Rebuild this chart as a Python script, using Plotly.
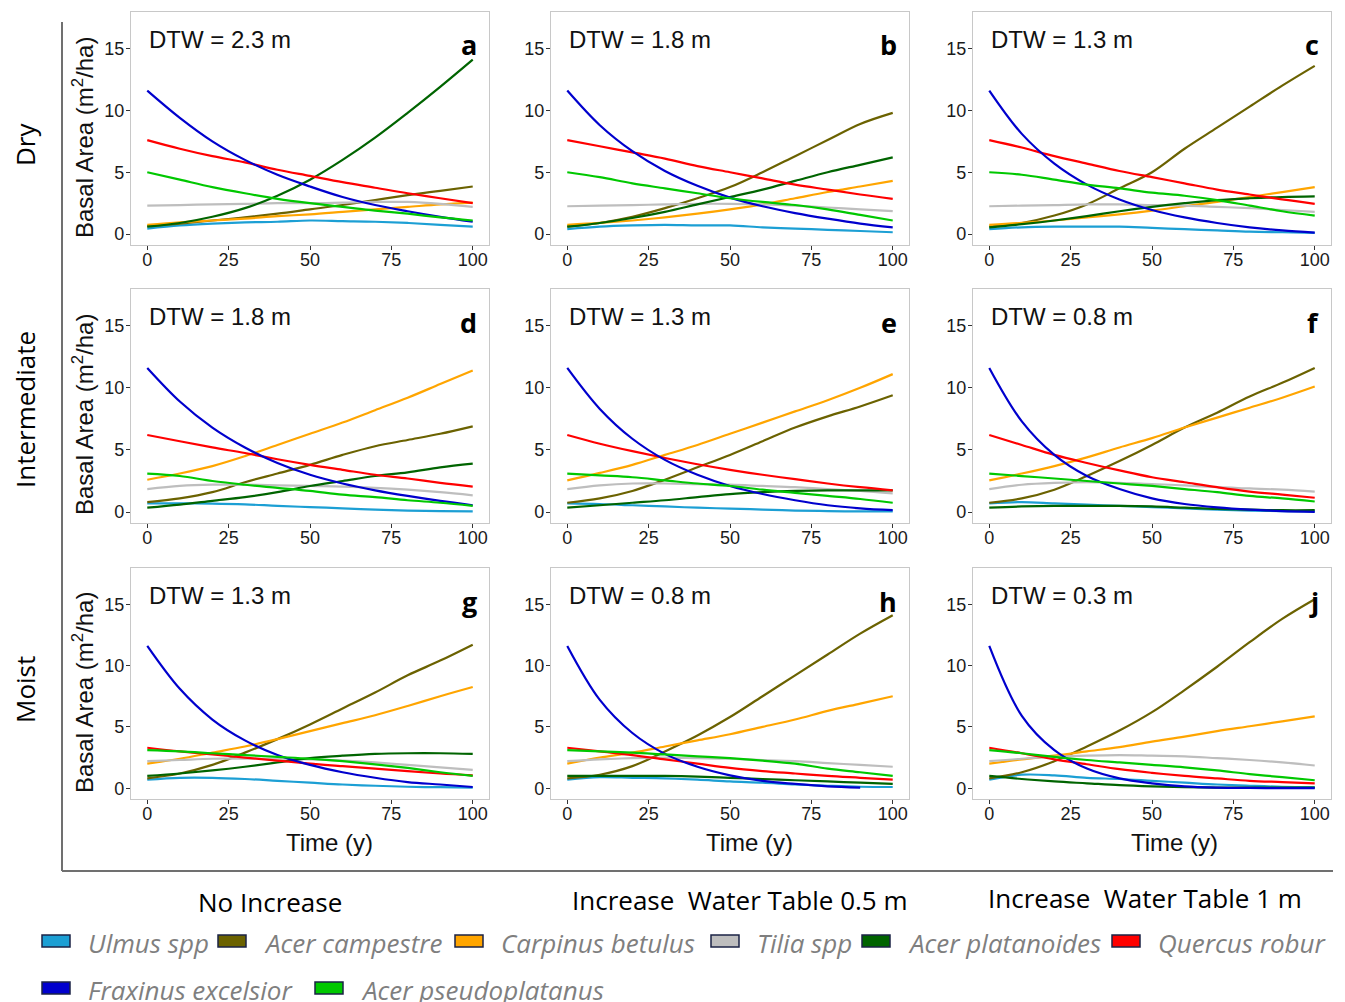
import plotly.graph_objects as go

# ---------------- data ----------------
years = [0, 10, 20, 30, 40, 50, 60, 70, 80, 90, 100]

species = ["Ulmus spp", "Acer campestre", "Carpinus betulus", "Tilia spp",
           "Acer platanoides", "Quercus robur", "Fraxinus excelsior", "Acer pseudoplatanus"]

species_colors = ["#1C9FD4", "#6B6200", "#FFA500", "#BEBEBE",
                  "#006400", "#FF0000", "#0000CD", "#00C800"]

panel_letters = ["a", "b", "c", "d", "e", "f", "g", "h", "j"]
dtw_labels = ["DTW = 2.3 m", "DTW = 1.8 m", "DTW = 1.3 m",
              "DTW = 1.8 m", "DTW = 1.3 m", "DTW = 0.8 m",
              "DTW = 1.3 m", "DTW = 0.8 m", "DTW = 0.3 m"]

row_labels = ["Dry", "Intermediate", "Moist"]
col_labels = ["No Increase", "Increase\u00a0 Water Table 0.5 m", "Increase\u00a0 Water Table 1 m"]

y_ticks = [0, 5, 10, 15]
x_ticks = [0, 25, 50, 75, 100]

panel_a = {
    "Ulmus spp":           [0.45, 0.7, 0.85, 0.95, 1.0, 1.1, 1.05, 1.0, 0.9, 0.75, 0.6],
    "Acer campestre":      [0.65, 0.85, 1.1, 1.35, 1.65, 2.0, 2.35, 2.75, 3.15, 3.5, 3.85],
    "Carpinus betulus":    [0.75, 0.95, 1.1, 1.25, 1.45, 1.6, 1.8, 2.0, 2.2, 2.4, 2.55],
    "Tilia spp":           [2.3, 2.35, 2.4, 2.45, 2.5, 2.5, 2.55, 2.6, 2.6, 2.45, 2.2],
    "Acer platanoides":    [0.6, 0.9, 1.4, 2.1, 3.1, 4.4, 6.0, 7.8, 9.8, 11.9, 14.1],
    "Quercus robur":       [7.6, 6.9, 6.3, 5.8, 5.2, 4.7, 4.2, 3.75, 3.3, 2.9, 2.5],
    "Fraxinus excelsior":  [11.6, 9.4, 7.5, 6.0, 4.8, 3.85, 3.0, 2.35, 1.85, 1.4, 1.0],
    "Acer pseudoplatanus": [5.0, 4.4, 3.8, 3.3, 2.85, 2.5, 2.2, 1.9, 1.65, 1.35, 1.1],
}
panel_b = {
    "Ulmus spp":           [0.4, 0.6, 0.7, 0.75, 0.7, 0.7, 0.55, 0.45, 0.35, 0.25, 0.15],
    "Acer campestre":      [0.6, 0.9, 1.4, 2.1, 2.9, 3.8, 5.0, 6.3, 7.6, 8.9, 9.8],
    "Carpinus betulus":    [0.75, 0.9, 1.1, 1.35, 1.65, 2.0, 2.4, 2.9, 3.4, 3.85, 4.3],
    "Tilia spp":           [2.25, 2.3, 2.35, 2.4, 2.45, 2.45, 2.4, 2.3, 2.15, 2.0, 1.85],
    "Acer platanoides":    [0.6, 0.9, 1.3, 1.8, 2.4, 3.0, 3.6, 4.3, 5.0, 5.6, 6.2],
    "Quercus robur":       [7.6, 7.1, 6.6, 6.1, 5.5, 5.0, 4.5, 4.0, 3.6, 3.2, 2.85],
    "Fraxinus excelsior":  [11.6, 8.8, 6.7, 5.1, 3.9, 2.95, 2.25, 1.7, 1.25, 0.85, 0.55],
    "Acer pseudoplatanus": [5.0, 4.6, 4.1, 3.7, 3.3, 2.9, 2.6, 2.35, 2.0, 1.55, 1.1],
}
panel_c = {
    "Ulmus spp":           [0.4, 0.55, 0.6, 0.6, 0.6, 0.5, 0.4, 0.3, 0.2, 0.15, 0.1],
    "Acer campestre":      [0.6, 0.9, 1.5, 2.4, 3.7, 5.0, 6.9, 8.6, 10.3, 12.0, 13.6],
    "Carpinus betulus":    [0.75, 0.9, 1.1, 1.35, 1.6, 1.9, 2.25, 2.6, 3.0, 3.4, 3.8],
    "Tilia spp":           [2.25, 2.3, 2.35, 2.4, 2.4, 2.35, 2.3, 2.2, 2.1, 1.95, 1.8],
    "Acer platanoides":    [0.55, 0.8, 1.1, 1.45, 1.85, 2.2, 2.5, 2.75, 2.9, 3.0, 3.05],
    "Quercus robur":       [7.6, 7.0, 6.3, 5.7, 5.1, 4.6, 4.1, 3.6, 3.2, 2.8, 2.45],
    "Fraxinus excelsior":  [11.6, 8.1, 5.7, 4.0, 2.8, 1.95, 1.35, 0.9, 0.55, 0.3, 0.12],
    "Acer pseudoplatanus": [5.0, 4.8, 4.4, 4.0, 3.7, 3.35, 3.1, 2.75, 2.3, 1.85, 1.5],
}
panel_d = {
    "Ulmus spp":           [0.7, 0.7, 0.68, 0.62, 0.5, 0.4, 0.3, 0.2, 0.12, 0.08, 0.05],
    "Acer campestre":      [0.8, 1.1, 1.6, 2.4, 3.1, 3.8, 4.6, 5.3, 5.8, 6.3, 6.9],
    "Carpinus betulus":    [2.6, 3.1, 3.7, 4.5, 5.4, 6.3, 7.2, 8.2, 9.2, 10.3, 11.4],
    "Tilia spp":           [1.85, 2.1, 2.2, 2.2, 2.15, 2.1, 2.05, 1.95, 1.8, 1.6, 1.35],
    "Acer platanoides":    [0.35, 0.6, 0.9, 1.2, 1.6, 2.1, 2.5, 2.9, 3.2, 3.6, 3.9],
    "Quercus robur":       [6.2, 5.7, 5.2, 4.75, 4.25, 3.8, 3.4, 3.0, 2.7, 2.35, 2.05],
    "Fraxinus excelsior":  [11.6, 8.9, 6.8, 5.2, 3.95, 3.0, 2.3, 1.75, 1.3, 0.9, 0.55],
    "Acer pseudoplatanus": [3.1, 2.9, 2.5, 2.2, 1.95, 1.7, 1.4, 1.2, 0.95, 0.75, 0.5],
}
panel_e = {
    "Ulmus spp":           [0.7, 0.65, 0.55, 0.45, 0.35, 0.28, 0.2, 0.12, 0.08, 0.05, 0.05],
    "Acer campestre":      [0.75, 1.1, 1.7, 2.6, 3.6, 4.6, 5.7, 6.8, 7.7, 8.5, 9.4],
    "Carpinus betulus":    [2.55, 3.15, 3.8, 4.6, 5.4, 6.3, 7.2, 8.1, 9.0, 10.0, 11.1],
    "Tilia spp":           [1.85, 2.15, 2.3, 2.3, 2.25, 2.2, 2.1, 2.0, 1.85, 1.7, 1.5],
    "Acer platanoides":    [0.35, 0.55, 0.75, 0.95, 1.2, 1.45, 1.6, 1.7, 1.75, 1.75, 1.75],
    "Quercus robur":       [6.2, 5.5, 4.9, 4.35, 3.85, 3.4, 3.0, 2.65, 2.3, 2.0, 1.75],
    "Fraxinus excelsior":  [11.6, 8.3, 5.9, 4.2, 3.0, 2.1, 1.45, 0.95, 0.55, 0.3, 0.15],
    "Acer pseudoplatanus": [3.1, 2.95, 2.8, 2.55, 2.3, 2.1, 1.8, 1.55, 1.3, 1.05, 0.75],
}
panel_f = {
    "Ulmus spp":           [0.7, 0.8, 0.7, 0.6, 0.5, 0.4, 0.3, 0.2, 0.12, 0.08, 0.05],
    "Acer campestre":      [0.75, 1.1, 1.8, 2.9, 4.1, 5.4, 6.8, 8.0, 9.3, 10.4, 11.6],
    "Carpinus betulus":    [2.55, 3.1, 3.7, 4.4, 5.2, 5.95, 6.8, 7.6, 8.4, 9.2, 10.1],
    "Tilia spp":           [1.85, 2.2, 2.35, 2.4, 2.35, 2.25, 2.15, 2.0, 1.9, 1.8, 1.65],
    "Acer platanoides":    [0.35, 0.45, 0.5, 0.5, 0.5, 0.45, 0.35, 0.25, 0.2, 0.15, 0.15],
    "Quercus robur":       [6.2, 5.4, 4.6, 3.95, 3.35, 2.8, 2.4, 2.0, 1.65, 1.4, 1.15],
    "Fraxinus excelsior":  [11.6, 7.3, 4.6, 2.9, 1.85, 1.1, 0.65, 0.38, 0.2, 0.08, 0.02],
    "Acer pseudoplatanus": [3.1, 2.9, 2.7, 2.5, 2.3, 2.1, 1.85, 1.6, 1.3, 1.1, 0.85],
}
panel_g = {
    "Ulmus spp":           [0.7, 0.85, 0.85, 0.75, 0.6, 0.45, 0.3, 0.2, 0.12, 0.08, 0.05],
    "Acer campestre":      [0.8, 1.2, 1.9, 2.9, 4.0, 5.2, 6.5, 7.8, 9.2, 10.4, 11.7],
    "Carpinus betulus":    [2.0, 2.4, 2.9, 3.4, 4.0, 4.65, 5.3, 5.95, 6.7, 7.5, 8.25],
    "Tilia spp":           [2.2, 2.3, 2.4, 2.4, 2.4, 2.35, 2.25, 2.1, 1.9, 1.7, 1.5],
    "Acer platanoides":    [1.0, 1.2, 1.45, 1.75, 2.1, 2.45, 2.65, 2.8, 2.85, 2.85, 2.8],
    "Quercus robur":       [3.3, 3.0, 2.75, 2.5, 2.25, 2.0, 1.8, 1.6, 1.4, 1.2, 1.05],
    "Fraxinus excelsior":  [11.6, 8.1, 5.6, 3.9, 2.7, 1.9, 1.3, 0.85, 0.5, 0.3, 0.1],
    "Acer pseudoplatanus": [3.1, 3.0, 2.85, 2.7, 2.55, 2.4, 2.2, 1.95, 1.65, 1.3, 1.0],
}
panel_h = {
    "Ulmus spp":           [0.7, 0.9, 0.85, 0.8, 0.7, 0.55, 0.45, 0.3, 0.2, 0.12, 0.1],
    "Acer campestre":      [0.8, 1.1, 1.8, 3.0, 4.3, 5.8, 7.5, 9.2, 10.9, 12.6, 14.1],
    "Carpinus betulus":    [2.0, 2.5, 2.9, 3.4, 3.9, 4.4, 5.0, 5.6, 6.3, 6.9, 7.5],
    "Tilia spp":           [2.2, 2.35, 2.45, 2.5, 2.45, 2.4, 2.3, 2.2, 2.05, 1.9, 1.75],
    "Acer platanoides":    [1.0, 1.0, 1.0, 1.0, 0.95, 0.85, 0.75, 0.65, 0.55, 0.45, 0.35],
    "Quercus robur":       [3.3, 3.0, 2.7, 2.35, 2.0, 1.65, 1.4, 1.2, 1.0, 0.85, 0.7],
    "Fraxinus excelsior":  [11.6, 7.2, 4.5, 2.8, 1.75, 1.05, 0.6, 0.35, 0.15, 0.05, None],
    "Acer pseudoplatanus": [3.1, 3.0, 2.9, 2.75, 2.6, 2.45, 2.25, 2.0, 1.6, 1.3, 1.0],
}
panel_j = {
    "Ulmus spp":           [0.7, 1.1, 1.05, 0.85, 0.75, 0.6, 0.45, 0.3, 0.2, 0.12, 0.1],
    "Acer campestre":      [0.8, 1.3, 2.2, 3.4, 4.7, 6.2, 8.0, 9.9, 11.9, 13.8, 15.4],
    "Carpinus betulus":    [2.0, 2.35, 2.65, 3.0, 3.35, 3.8, 4.2, 4.65, 5.05, 5.45, 5.85],
    "Tilia spp":           [2.2, 2.4, 2.55, 2.65, 2.7, 2.65, 2.6, 2.45, 2.3, 2.1, 1.85],
    "Acer platanoides":    [1.0, 0.75, 0.55, 0.4, 0.25, 0.15, 0.08, 0.05, 0.05, 0.05, 0.05],
    "Quercus robur":       [3.3, 2.85, 2.35, 1.95, 1.55, 1.25, 1.0, 0.8, 0.6, 0.5, 0.4],
    "Fraxinus excelsior":  [11.6, 5.9, 3.1, 1.6, 0.8, 0.4, 0.15, 0.05, 0.02, 0.01, 0.0],
    "Acer pseudoplatanus": [3.1, 2.85, 2.55, 2.3, 2.1, 1.9, 1.7, 1.45, 1.15, 0.9, 0.65],
}

panels = [panel_a, panel_b, panel_c, panel_d, panel_e, panel_f, panel_g, panel_h, panel_j]

# ---------------- layout geometry (page pixels) ----------------
W, H = 1345, 1002
OFF = 8  # default page body margin shifts the figure by this amount
col_px = [(131, 489), (551, 909), (973, 1331)]
row_px = [(12, 245), (289, 523), (568, 799)]
X_RANGE = [-5, 105]
Y_RANGE = [-0.88, 17.95]


def px(x):
    return (x - OFF) / W


def py(y):
    return 1 - (y - OFF) / H


fig = go.Figure()
annotations = []
shapes = []

for i, data in enumerate(panels):
    r, c = divmod(i, 3)
    n = i + 1
    xa = "x" if n == 1 else f"x{n}"
    ya = "y" if n == 1 else f"y{n}"
    for name, color in zip(species, species_colors):
        fig.add_trace(go.Scatter(
            x=years, y=data[name], mode="lines", name=name,
            line=dict(color=color, width=2.2, shape="spline", smoothing=1.0),
            xaxis=xa, yaxis=ya, showlegend=False, connectgaps=False,
        ))
    x0, x1 = col_px[c]
    y0, y1 = row_px[r]
    axis_common = dict(
        showline=True, mirror=True, linecolor="#C8C8C8", linewidth=1.4,
        ticks="outside", ticklen=4, tickwidth=1, tickcolor="#333333",
        showgrid=False, zeroline=False,
        tickfont=dict(family="Liberation Sans, Arial", size=18, color="#1a1a1a"),
    )
    fig.update_layout(**{
        ("xaxis" if n == 1 else f"xaxis{n}"): dict(
            domain=[px(x0), px(x1)], anchor=ya, range=X_RANGE,
            tickvals=x_ticks, ticktext=[str(t) for t in x_ticks],
            ticklabelstandoff=-6, **axis_common),
        ("yaxis" if n == 1 else f"yaxis{n}"): dict(
            domain=[py(y1), py(y0)], anchor=xa, range=Y_RANGE,
            tickvals=y_ticks, ticktext=[str(t) for t in y_ticks],
            ticklabelstandoff=-2, **axis_common),
    })
    # DTW label
    annotations.append(dict(
        x=0, xref=xa, y=py(y0 + 27), yref="paper", text=dtw_labels[i],
        showarrow=False, xanchor="left", yanchor="middle",
        font=dict(family="Liberation Sans, Arial", size=24, color="#111111")))
    # panel letter
    annotations.append(dict(
        x=px(x1 - 10), xref="paper", y=py(y0 + 33), yref="paper",
        text=f"<b>{panel_letters[i]}</b>", showarrow=False,
        xanchor="right", yanchor="middle",
        font=dict(family="Open Sans, Noto Sans", size=27, color="#000000")))

# y-axis titles (first column)
for r, yc in enumerate([138, 415, 693]):
    annotations.append(dict(
        x=px(83), y=py(yc), xref="paper", yref="paper",
        text="Basal Area (m<sup>2</sup>/ha)", textangle=-90, showarrow=False,
        xanchor="center", yanchor="middle",
        font=dict(family="Liberation Sans, Arial", size=24, color="#111111")))

# x-axis titles (bottom row)
for xc in [329, 749, 1174]:
    annotations.append(dict(
        x=px(xc), y=py(842), xref="paper", yref="paper", text="Time (y)",
        showarrow=False, xanchor="center", yanchor="middle",
        font=dict(family="Liberation Sans, Arial", size=24, color="#111111")))

# row labels
for lab, yc in zip(row_labels, [145, 410, 690]):
    annotations.append(dict(
        x=px(25), y=py(yc), xref="paper", yref="paper", text=lab,
        textangle=-90, showarrow=False, xanchor="center", yanchor="middle",
        borderpad=0,
        font=dict(family="Open Sans, Noto Sans", size=26, color="#000000")))

# column labels
for lab, xc, yc in zip(col_labels, [270, 740, 1145], [902, 900, 898]):
    annotations.append(dict(
        x=px(xc), y=py(yc), xref="paper", yref="paper", text=lab,
        showarrow=False, xanchor="center", yanchor="middle",
        font=dict(family="Open Sans, Noto Sans", size=26, color="#000000")))

# frame lines
shapes.append(dict(type="line", xref="paper", yref="paper",
                   x0=px(62), x1=px(62), y0=py(22), y1=py(871),
                   line=dict(color="#707070", width=2)))
shapes.append(dict(type="line", xref="paper", yref="paper",
                   x0=px(62), x1=px(1333), y0=py(871), y1=py(871),
                   line=dict(color="#707070", width=2)))

# legend (custom swatches)
legend_pos = [(42, 941), (218, 941), (455, 941), (711, 941), (862, 941), (1112, 941),
              (42, 988), (315, 988)]
for name, color, (lx, ly) in zip(species, species_colors, legend_pos):
    shapes.append(dict(type="rect", xref="paper", yref="paper",
                       x0=px(lx), x1=px(lx + 28), y0=py(ly + 6), y1=py(ly - 6),
                       fillcolor=color, line=dict(color="#1B2345", width=1.5)))
    annotations.append(dict(
        x=px(lx + 44), y=py(ly + 2), xref="paper", yref="paper",
        text=f"<i>{name}</i>", showarrow=False, xanchor="left", yanchor="middle",
        font=dict(family="Open Sans, Noto Sans", size=26, color="#7F7F7F")))

fig.update_layout(
    width=W, height=H, margin=dict(l=0, r=0, t=0, b=0),
    paper_bgcolor="white", plot_bgcolor="white",
    annotations=annotations, shapes=shapes, showlegend=False,
)

fig.write_html("out.html")
